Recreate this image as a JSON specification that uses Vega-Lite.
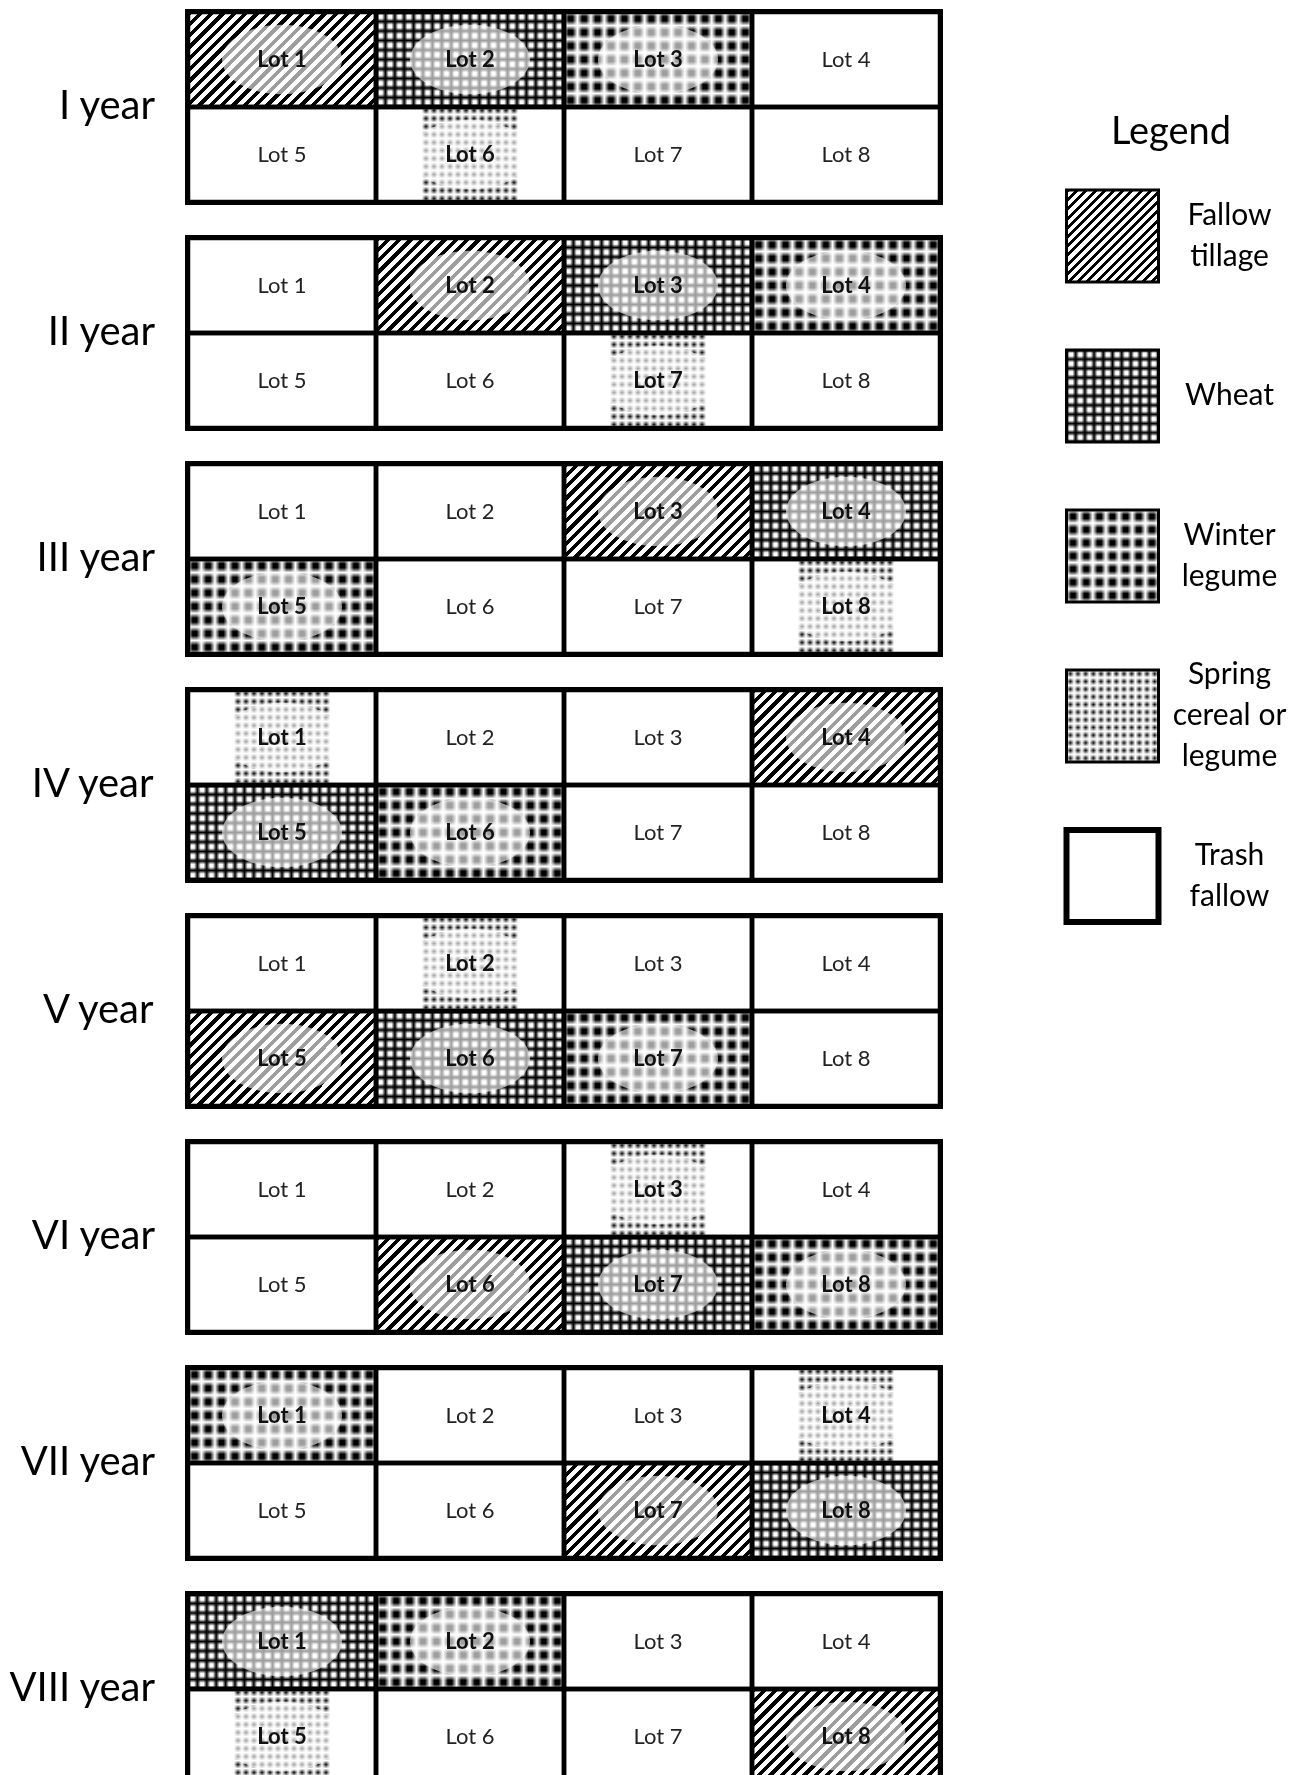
{
  "$schema": "https://vega.github.io/schema/vega-lite/v6.json",
  "background": "white",
  "padding": {"left": 9, "top": 6, "right": 0, "bottom": 0},
  "config": {"view": {"stroke": "black", "strokeWidth": 6}, "font": "Lato"},
  "datasets": {
    "lots": [
      {"year":"I year","lot":1,"crop":"Fallow tillage"},
      {"year":"I year","lot":2,"crop":"Wheat"},
      {"year":"I year","lot":3,"crop":"Winter legume"},
      {"year":"I year","lot":4,"crop":"Trash fallow"},
      {"year":"I year","lot":5,"crop":"Trash fallow"},
      {"year":"I year","lot":6,"crop":"Spring cereal or legume"},
      {"year":"I year","lot":7,"crop":"Trash fallow"},
      {"year":"I year","lot":8,"crop":"Trash fallow"},
      {"year":"II year","lot":1,"crop":"Trash fallow"},
      {"year":"II year","lot":2,"crop":"Fallow tillage"},
      {"year":"II year","lot":3,"crop":"Wheat"},
      {"year":"II year","lot":4,"crop":"Winter legume"},
      {"year":"II year","lot":5,"crop":"Trash fallow"},
      {"year":"II year","lot":6,"crop":"Trash fallow"},
      {"year":"II year","lot":7,"crop":"Spring cereal or legume"},
      {"year":"II year","lot":8,"crop":"Trash fallow"},
      {"year":"III year","lot":1,"crop":"Trash fallow"},
      {"year":"III year","lot":2,"crop":"Trash fallow"},
      {"year":"III year","lot":3,"crop":"Fallow tillage"},
      {"year":"III year","lot":4,"crop":"Wheat"},
      {"year":"III year","lot":5,"crop":"Winter legume"},
      {"year":"III year","lot":6,"crop":"Trash fallow"},
      {"year":"III year","lot":7,"crop":"Trash fallow"},
      {"year":"III year","lot":8,"crop":"Spring cereal or legume"},
      {"year":"IV year","lot":1,"crop":"Spring cereal or legume"},
      {"year":"IV year","lot":2,"crop":"Trash fallow"},
      {"year":"IV year","lot":3,"crop":"Trash fallow"},
      {"year":"IV year","lot":4,"crop":"Fallow tillage"},
      {"year":"IV year","lot":5,"crop":"Wheat"},
      {"year":"IV year","lot":6,"crop":"Winter legume"},
      {"year":"IV year","lot":7,"crop":"Trash fallow"},
      {"year":"IV year","lot":8,"crop":"Trash fallow"},
      {"year":"V year","lot":1,"crop":"Trash fallow"},
      {"year":"V year","lot":2,"crop":"Spring cereal or legume"},
      {"year":"V year","lot":3,"crop":"Trash fallow"},
      {"year":"V year","lot":4,"crop":"Trash fallow"},
      {"year":"V year","lot":5,"crop":"Fallow tillage"},
      {"year":"V year","lot":6,"crop":"Wheat"},
      {"year":"V year","lot":7,"crop":"Winter legume"},
      {"year":"V year","lot":8,"crop":"Trash fallow"},
      {"year":"VI year","lot":1,"crop":"Trash fallow"},
      {"year":"VI year","lot":2,"crop":"Trash fallow"},
      {"year":"VI year","lot":3,"crop":"Spring cereal or legume"},
      {"year":"VI year","lot":4,"crop":"Trash fallow"},
      {"year":"VI year","lot":5,"crop":"Trash fallow"},
      {"year":"VI year","lot":6,"crop":"Fallow tillage"},
      {"year":"VI year","lot":7,"crop":"Wheat"},
      {"year":"VI year","lot":8,"crop":"Winter legume"},
      {"year":"VII year","lot":1,"crop":"Winter legume"},
      {"year":"VII year","lot":2,"crop":"Trash fallow"},
      {"year":"VII year","lot":3,"crop":"Trash fallow"},
      {"year":"VII year","lot":4,"crop":"Spring cereal or legume"},
      {"year":"VII year","lot":5,"crop":"Trash fallow"},
      {"year":"VII year","lot":6,"crop":"Trash fallow"},
      {"year":"VII year","lot":7,"crop":"Fallow tillage"},
      {"year":"VII year","lot":8,"crop":"Wheat"},
      {"year":"VIII year","lot":1,"crop":"Wheat"},
      {"year":"VIII year","lot":2,"crop":"Winter legume"},
      {"year":"VIII year","lot":3,"crop":"Trash fallow"},
      {"year":"VIII year","lot":4,"crop":"Trash fallow"},
      {"year":"VIII year","lot":5,"crop":"Spring cereal or legume"},
      {"year":"VIII year","lot":6,"crop":"Trash fallow"},
      {"year":"VIII year","lot":7,"crop":"Trash fallow"},
      {"year":"VIII year","lot":8,"crop":"Fallow tillage"}
    ],
    "legend": [
      {"crop":"Fallow tillage","text":"Fallow\ntillage"},
      {"crop":"Wheat","text":"Wheat"},
      {"crop":"Winter legume","text":"Winter\nlegume"},
      {"crop":"Spring cereal or legume","text":"Spring\ncereal or\nlegume"},
      {"crop":"Trash fallow","text":"Trash\nfallow"}
    ]
  },
  "spacing": 108,
  "hconcat": [
    {
      "data": {"name": "lots"},
      "transform": [
        {"calculate": "(datum.lot - 1) % 4", "as": "col"},
        {"calculate": "datum.lot <= 4 ? 'top' : 'bottom'", "as": "row"},
        {"calculate": "'Lot ' + datum.lot", "as": "name"}
      ],
      "facet": {
        "row": {
          "field": "year", "type": "nominal",
          "sort": ["I year","II year","III year","IV year","V year","VI year","VII year","VIII year"],
          "title": null,
          "header": {"labelOrient": "left", "labelAngle": 0, "labelAlign": "left", "labelBaseline": "middle", "labelFont": "Lato", "labelFontSize": 40, "labelColor": "black", "labelPadding": 26}
        }
      },
      "spacing": 24,
      "spec": {
        "width": 752,
        "height": 190,
        "encoding": {
          "x": {"field": "col", "type": "ordinal", "scale": {"type": "band", "domain": [0,1,2,3], "paddingInner": 0, "paddingOuter": 0}, "axis": null},
          "y": {"field": "row", "type": "ordinal", "scale": {"type": "band", "domain": ["top","bottom"], "paddingInner": 0, "paddingOuter": 0}, "axis": null}
        },
        "layer": [
          {"mark": {"type": "rect", "fill": "white"}},
          {"transform": [{"filter": "datum.crop === 'Fallow tillage'"}],
           "mark": {"type": "rect", "fill": {"gradient": "linear", "x1": 0, "y1": 0, "x2": 1.2, "y2": 0.606, "stops": [
             {"offset":0,"color":"black"},{"offset":0.018,"color":"black"},{"offset":0.018,"color":"white"},{"offset":0.04,"color":"white"},
             {"offset":0.04,"color":"black"},{"offset":0.058,"color":"black"},{"offset":0.058,"color":"white"},{"offset":0.08,"color":"white"},
             {"offset":0.08,"color":"black"},{"offset":0.098,"color":"black"},{"offset":0.098,"color":"white"},{"offset":0.12,"color":"white"},
             {"offset":0.12,"color":"black"},{"offset":0.138,"color":"black"},{"offset":0.138,"color":"white"},{"offset":0.16,"color":"white"},
             {"offset":0.16,"color":"black"},{"offset":0.178,"color":"black"},{"offset":0.178,"color":"white"},{"offset":0.2,"color":"white"},
             {"offset":0.2,"color":"black"},{"offset":0.218,"color":"black"},{"offset":0.218,"color":"white"},{"offset":0.24,"color":"white"},
             {"offset":0.24,"color":"black"},{"offset":0.258,"color":"black"},{"offset":0.258,"color":"white"},{"offset":0.28,"color":"white"},
             {"offset":0.28,"color":"black"},{"offset":0.298,"color":"black"},{"offset":0.298,"color":"white"},{"offset":0.32,"color":"white"},
             {"offset":0.32,"color":"black"},{"offset":0.338,"color":"black"},{"offset":0.338,"color":"white"},{"offset":0.36,"color":"white"},
             {"offset":0.36,"color":"black"},{"offset":0.378,"color":"black"},{"offset":0.378,"color":"white"},{"offset":0.4,"color":"white"},
             {"offset":0.4,"color":"black"},{"offset":0.418,"color":"black"},{"offset":0.418,"color":"white"},{"offset":0.44,"color":"white"},
             {"offset":0.44,"color":"black"},{"offset":0.458,"color":"black"},{"offset":0.458,"color":"white"},{"offset":0.48,"color":"white"},
             {"offset":0.48,"color":"black"},{"offset":0.498,"color":"black"},{"offset":0.498,"color":"white"},{"offset":0.52,"color":"white"},
             {"offset":0.52,"color":"black"},{"offset":0.538,"color":"black"},{"offset":0.538,"color":"white"},{"offset":0.56,"color":"white"},
             {"offset":0.56,"color":"black"},{"offset":0.578,"color":"black"},{"offset":0.578,"color":"white"},{"offset":0.6,"color":"white"},
             {"offset":0.6,"color":"black"},{"offset":0.618,"color":"black"},{"offset":0.618,"color":"white"},{"offset":0.64,"color":"white"},
             {"offset":0.64,"color":"black"},{"offset":0.658,"color":"black"},{"offset":0.658,"color":"white"},{"offset":0.68,"color":"white"},
             {"offset":0.68,"color":"black"},{"offset":0.698,"color":"black"},{"offset":0.698,"color":"white"},{"offset":0.72,"color":"white"},
             {"offset":0.72,"color":"black"},{"offset":0.738,"color":"black"},{"offset":0.738,"color":"white"},{"offset":0.76,"color":"white"},
             {"offset":0.76,"color":"black"},{"offset":0.778,"color":"black"},{"offset":0.778,"color":"white"},{"offset":0.8,"color":"white"},
             {"offset":0.8,"color":"black"},{"offset":0.818,"color":"black"},{"offset":0.818,"color":"white"},{"offset":0.84,"color":"white"},
             {"offset":0.84,"color":"black"},{"offset":0.858,"color":"black"},{"offset":0.858,"color":"white"},{"offset":0.88,"color":"white"},
             {"offset":0.88,"color":"black"},{"offset":0.898,"color":"black"},{"offset":0.898,"color":"white"},{"offset":0.92,"color":"white"},
             {"offset":0.92,"color":"black"},{"offset":0.938,"color":"black"},{"offset":0.938,"color":"white"},{"offset":0.96,"color":"white"},
             {"offset":0.96,"color":"black"},{"offset":0.978,"color":"black"},{"offset":0.978,"color":"white"},{"offset":1,"color":"white"}
           ]}}},
          {"transform": [{"filter": "datum.crop === 'Wheat'"}],
           "mark": {"type": "rect", "fill": {"gradient": "linear", "x1": 0, "y1": 0, "x2": 0, "y2": 1, "stops": [
             {"offset":0,"color":"black"},{"offset":0.035,"color":"white"},{"offset":0.065,"color":"white"},
             {"offset":0.1,"color":"black"},{"offset":0.135,"color":"white"},{"offset":0.165,"color":"white"},
             {"offset":0.2,"color":"black"},{"offset":0.235,"color":"white"},{"offset":0.265,"color":"white"},
             {"offset":0.3,"color":"black"},{"offset":0.335,"color":"white"},{"offset":0.365,"color":"white"},
             {"offset":0.4,"color":"black"},{"offset":0.435,"color":"white"},{"offset":0.465,"color":"white"},
             {"offset":0.5,"color":"black"},{"offset":0.535,"color":"white"},{"offset":0.565,"color":"white"},
             {"offset":0.6,"color":"black"},{"offset":0.635,"color":"white"},{"offset":0.665,"color":"white"},
             {"offset":0.7,"color":"black"},{"offset":0.735,"color":"white"},{"offset":0.765,"color":"white"},
             {"offset":0.8,"color":"black"},{"offset":0.835,"color":"white"},{"offset":0.865,"color":"white"},
             {"offset":0.9,"color":"black"},{"offset":0.935,"color":"white"},{"offset":0.965,"color":"white"},
             {"offset":1,"color":"black"}
           ]}}},
          {"transform": [{"filter": "datum.crop === 'Wheat'"}],
           "mark": {"type": "rect", "blend": "multiply", "fill": {"gradient": "linear", "x1": 0, "y1": 0, "x2": 1, "y2": 0, "stops": [
             {"offset":0,"color":"black"},{"offset":0.0175,"color":"white"},{"offset":0.0325,"color":"white"},
             {"offset":0.05,"color":"black"},{"offset":0.0675,"color":"white"},{"offset":0.0825,"color":"white"},
             {"offset":0.1,"color":"black"},{"offset":0.1175,"color":"white"},{"offset":0.1325,"color":"white"},
             {"offset":0.15,"color":"black"},{"offset":0.1675,"color":"white"},{"offset":0.1825,"color":"white"},
             {"offset":0.2,"color":"black"},{"offset":0.2175,"color":"white"},{"offset":0.2325,"color":"white"},
             {"offset":0.25,"color":"black"},{"offset":0.2675,"color":"white"},{"offset":0.2825,"color":"white"},
             {"offset":0.3,"color":"black"},{"offset":0.3175,"color":"white"},{"offset":0.3325,"color":"white"},
             {"offset":0.35,"color":"black"},{"offset":0.3675,"color":"white"},{"offset":0.3825,"color":"white"},
             {"offset":0.4,"color":"black"},{"offset":0.4175,"color":"white"},{"offset":0.4325,"color":"white"},
             {"offset":0.45,"color":"black"},{"offset":0.4675,"color":"white"},{"offset":0.4825,"color":"white"},
             {"offset":0.5,"color":"black"},{"offset":0.5175,"color":"white"},{"offset":0.5325,"color":"white"},
             {"offset":0.55,"color":"black"},{"offset":0.5675,"color":"white"},{"offset":0.5825,"color":"white"},
             {"offset":0.6,"color":"black"},{"offset":0.6175,"color":"white"},{"offset":0.6325,"color":"white"},
             {"offset":0.65,"color":"black"},{"offset":0.6675,"color":"white"},{"offset":0.6825,"color":"white"},
             {"offset":0.7,"color":"black"},{"offset":0.7175,"color":"white"},{"offset":0.7325,"color":"white"},
             {"offset":0.75,"color":"black"},{"offset":0.7675,"color":"white"},{"offset":0.7825,"color":"white"},
             {"offset":0.8,"color":"black"},{"offset":0.8175,"color":"white"},{"offset":0.8325,"color":"white"},
             {"offset":0.85,"color":"black"},{"offset":0.8675,"color":"white"},{"offset":0.8825,"color":"white"},
             {"offset":0.9,"color":"black"},{"offset":0.9175,"color":"white"},{"offset":0.9325,"color":"white"},
             {"offset":0.95,"color":"black"},{"offset":0.9675,"color":"white"},{"offset":0.9825,"color":"white"},
             {"offset":1,"color":"black"}
           ]}}},
          {"transform": [{"filter": "datum.crop === 'Winter legume'"}],
           "mark": {"type": "rect", "fill": {"gradient": "linear", "x1": 0, "y1": 0, "x2": 0, "y2": 1, "stops": [
             {"offset":0,"color":"white"},{"offset":0.05,"color":"black"},{"offset":0.0929,"color":"black"},
             {"offset":0.1429,"color":"white"},{"offset":0.1929,"color":"black"},{"offset":0.2357,"color":"black"},
             {"offset":0.2857,"color":"white"},{"offset":0.3357,"color":"black"},{"offset":0.3786,"color":"black"},
             {"offset":0.4286,"color":"white"},{"offset":0.4786,"color":"black"},{"offset":0.5214,"color":"black"},
             {"offset":0.5714,"color":"white"},{"offset":0.6214,"color":"black"},{"offset":0.6643,"color":"black"},
             {"offset":0.7143,"color":"white"},{"offset":0.7643,"color":"black"},{"offset":0.8071,"color":"black"},
             {"offset":0.8571,"color":"white"},{"offset":0.9071,"color":"black"},{"offset":0.95,"color":"black"},
             {"offset":1,"color":"white"}
           ]}}},
          {"transform": [{"filter": "datum.crop === 'Winter legume'"}],
           "mark": {"type": "rect", "blend": "screen", "fill": {"gradient": "linear", "x1": 0, "y1": 0, "x2": 1, "y2": 0, "stops": [
             {"offset":0,"color":"white"},{"offset":0.025,"color":"black"},{"offset":0.0464,"color":"black"},
             {"offset":0.0714,"color":"white"},{"offset":0.0964,"color":"black"},{"offset":0.1179,"color":"black"},
             {"offset":0.1429,"color":"white"},{"offset":0.1679,"color":"black"},{"offset":0.1893,"color":"black"},
             {"offset":0.2143,"color":"white"},{"offset":0.2393,"color":"black"},{"offset":0.2607,"color":"black"},
             {"offset":0.2857,"color":"white"},{"offset":0.3107,"color":"black"},{"offset":0.3321,"color":"black"},
             {"offset":0.3571,"color":"white"},{"offset":0.3821,"color":"black"},{"offset":0.4036,"color":"black"},
             {"offset":0.4286,"color":"white"},{"offset":0.4536,"color":"black"},{"offset":0.475,"color":"black"},
             {"offset":0.5,"color":"white"},{"offset":0.525,"color":"black"},{"offset":0.5464,"color":"black"},
             {"offset":0.5714,"color":"white"},{"offset":0.5964,"color":"black"},{"offset":0.6179,"color":"black"},
             {"offset":0.6429,"color":"white"},{"offset":0.6679,"color":"black"},{"offset":0.6893,"color":"black"},
             {"offset":0.7143,"color":"white"},{"offset":0.7393,"color":"black"},{"offset":0.7607,"color":"black"},
             {"offset":0.7857,"color":"white"},{"offset":0.8107,"color":"black"},{"offset":0.8321,"color":"black"},
             {"offset":0.8571,"color":"white"},{"offset":0.8821,"color":"black"},{"offset":0.9036,"color":"black"},
             {"offset":0.9286,"color":"white"},{"offset":0.9536,"color":"black"},{"offset":0.975,"color":"black"},
             {"offset":1,"color":"white"}
           ]}}},
          {"transform": [{"filter": "datum.crop === 'Spring cereal or legume'"}],
           "mark": {"type": "point", "shape": "square", "size": 9216, "filled": true, "strokeWidth": 0, "opacity": 1, "fill": {"gradient": "linear", "x1": 0, "y1": 0, "x2": 0, "y2": 1, "stops": [
             {"offset":0,"color":"white"},{"offset":0.0417,"color":"black"},{"offset":0.0833,"color":"white"},{"offset":0.125,"color":"black"},
             {"offset":0.1667,"color":"white"},{"offset":0.2083,"color":"black"},{"offset":0.25,"color":"white"},{"offset":0.2917,"color":"black"},
             {"offset":0.3333,"color":"white"},{"offset":0.375,"color":"black"},{"offset":0.4167,"color":"white"},{"offset":0.4583,"color":"black"},
             {"offset":0.5,"color":"white"},{"offset":0.5417,"color":"black"},{"offset":0.5833,"color":"white"},{"offset":0.625,"color":"black"},
             {"offset":0.6667,"color":"white"},{"offset":0.7083,"color":"black"},{"offset":0.75,"color":"white"},{"offset":0.7917,"color":"black"},
             {"offset":0.8333,"color":"white"},{"offset":0.875,"color":"black"},{"offset":0.9167,"color":"white"},{"offset":0.9583,"color":"black"},
             {"offset":1,"color":"white"}
           ]}}},
          {"transform": [{"filter": "datum.crop === 'Spring cereal or legume'"}],
           "mark": {"type": "point", "shape": "square", "size": 9216, "filled": true, "strokeWidth": 0, "opacity": 1, "blend": "screen", "fill": {"gradient": "linear", "x1": 0, "y1": 0, "x2": 1, "y2": 0, "stops": [
             {"offset":0,"color":"white"},{"offset":0.0417,"color":"black"},{"offset":0.0833,"color":"white"},{"offset":0.125,"color":"black"},
             {"offset":0.1667,"color":"white"},{"offset":0.2083,"color":"black"},{"offset":0.25,"color":"white"},{"offset":0.2917,"color":"black"},
             {"offset":0.3333,"color":"white"},{"offset":0.375,"color":"black"},{"offset":0.4167,"color":"white"},{"offset":0.4583,"color":"black"},
             {"offset":0.5,"color":"white"},{"offset":0.5417,"color":"black"},{"offset":0.5833,"color":"white"},{"offset":0.625,"color":"black"},
             {"offset":0.6667,"color":"white"},{"offset":0.7083,"color":"black"},{"offset":0.75,"color":"white"},{"offset":0.7917,"color":"black"},
             {"offset":0.8333,"color":"white"},{"offset":0.875,"color":"black"},{"offset":0.9167,"color":"white"},{"offset":0.9583,"color":"black"},
             {"offset":1,"color":"white"}
           ]}}},
          {"transform": [{"filter": "datum.crop !== 'Trash fallow'"}],
           "mark": {"type": "point", "shape": "M-1,0A1,0.58,0,1,0,1,0A1,0.58,0,1,0,-1,0Z", "size": 14400, "filled": true, "fill": "white", "strokeWidth": 0, "opacity": 0.62}},
          {"mark": {"type": "rect", "fill": "transparent", "stroke": "black", "strokeWidth": 4.5}},
          {"transform": [{"filter": "datum.crop === 'Trash fallow'"}],
           "mark": {"type": "text", "font": "Lato", "fontSize": 22, "fill": "#222222", "fontWeight": "normal"},
           "encoding": {"text": {"field": "name"}}},
          {"transform": [{"filter": "datum.crop !== 'Trash fallow'"}],
           "mark": {"type": "text", "font": "Lato", "fontSize": 22, "fill": "#111111", "fontWeight": "bold"},
           "encoding": {"text": {"field": "name"}}}
        ]
      }
    },
    {
      "data": {"name": "legend"},
      "width": 234,
      "height": 1088,
      "view": {"stroke": null},
      "title": {"text": "Legend", "font": "Lato", "fontSize": 38, "fontWeight": "normal", "color": "black", "anchor": "middle", "offset": -140},
      "encoding": {
        "x": {"datum": "swatch", "type": "nominal", "scale": {"type": "band", "domain": ["swatch","label"], "paddingInner": 0, "paddingOuter": 0}, "axis": null},
        "y": {"field": "crop", "type": "nominal", "sort": null, "scale": {"type": "band", "paddingInner": 0, "paddingOuter": 0.9}, "axis": null}
      },
      "layer": [
        {"mark": {"type": "point", "shape": "square", "size": 8464, "filled": true, "fill": "white", "strokeWidth": 0, "opacity": 1}},
        {"transform": [{"filter": "datum.crop === 'Fallow tillage'"}],
         "mark": {"type": "point", "shape": "square", "size": 8464, "filled": true, "strokeWidth": 0, "opacity": 1, "fill": {"gradient": "linear", "x1": 0, "y1": 0, "x2": 1, "y2": 1, "stops": [
           {"offset":0,"color":"black"},{"offset":0.022,"color":"black"},{"offset":0.022,"color":"white"},{"offset":0.05,"color":"white"},
           {"offset":0.05,"color":"black"},{"offset":0.072,"color":"black"},{"offset":0.072,"color":"white"},{"offset":0.1,"color":"white"},
           {"offset":0.1,"color":"black"},{"offset":0.122,"color":"black"},{"offset":0.122,"color":"white"},{"offset":0.15,"color":"white"},
           {"offset":0.15,"color":"black"},{"offset":0.172,"color":"black"},{"offset":0.172,"color":"white"},{"offset":0.2,"color":"white"},
           {"offset":0.2,"color":"black"},{"offset":0.222,"color":"black"},{"offset":0.222,"color":"white"},{"offset":0.25,"color":"white"},
           {"offset":0.25,"color":"black"},{"offset":0.272,"color":"black"},{"offset":0.272,"color":"white"},{"offset":0.3,"color":"white"},
           {"offset":0.3,"color":"black"},{"offset":0.322,"color":"black"},{"offset":0.322,"color":"white"},{"offset":0.35,"color":"white"},
           {"offset":0.35,"color":"black"},{"offset":0.372,"color":"black"},{"offset":0.372,"color":"white"},{"offset":0.4,"color":"white"},
           {"offset":0.4,"color":"black"},{"offset":0.422,"color":"black"},{"offset":0.422,"color":"white"},{"offset":0.45,"color":"white"},
           {"offset":0.45,"color":"black"},{"offset":0.472,"color":"black"},{"offset":0.472,"color":"white"},{"offset":0.5,"color":"white"},
           {"offset":0.5,"color":"black"},{"offset":0.522,"color":"black"},{"offset":0.522,"color":"white"},{"offset":0.55,"color":"white"},
           {"offset":0.55,"color":"black"},{"offset":0.572,"color":"black"},{"offset":0.572,"color":"white"},{"offset":0.6,"color":"white"},
           {"offset":0.6,"color":"black"},{"offset":0.622,"color":"black"},{"offset":0.622,"color":"white"},{"offset":0.65,"color":"white"},
           {"offset":0.65,"color":"black"},{"offset":0.672,"color":"black"},{"offset":0.672,"color":"white"},{"offset":0.7,"color":"white"},
           {"offset":0.7,"color":"black"},{"offset":0.722,"color":"black"},{"offset":0.722,"color":"white"},{"offset":0.75,"color":"white"},
           {"offset":0.75,"color":"black"},{"offset":0.772,"color":"black"},{"offset":0.772,"color":"white"},{"offset":0.8,"color":"white"},
           {"offset":0.8,"color":"black"},{"offset":0.822,"color":"black"},{"offset":0.822,"color":"white"},{"offset":0.85,"color":"white"},
           {"offset":0.85,"color":"black"},{"offset":0.872,"color":"black"},{"offset":0.872,"color":"white"},{"offset":0.9,"color":"white"},
           {"offset":0.9,"color":"black"},{"offset":0.922,"color":"black"},{"offset":0.922,"color":"white"},{"offset":0.95,"color":"white"},
           {"offset":0.95,"color":"black"},{"offset":0.972,"color":"black"},{"offset":0.972,"color":"white"},{"offset":1,"color":"white"}
         ]}}},
        {"transform": [{"filter": "datum.crop === 'Wheat'"}],
         "mark": {"type": "point", "shape": "square", "size": 8464, "filled": true, "strokeWidth": 0, "opacity": 1, "fill": {"gradient": "linear", "x1": 0, "y1": 0, "x2": 0, "y2": 1, "stops": [
           {"offset":0,"color":"black"},{"offset":0.035,"color":"white"},{"offset":0.065,"color":"white"},
           {"offset":0.1,"color":"black"},{"offset":0.135,"color":"white"},{"offset":0.165,"color":"white"},
           {"offset":0.2,"color":"black"},{"offset":0.235,"color":"white"},{"offset":0.265,"color":"white"},
           {"offset":0.3,"color":"black"},{"offset":0.335,"color":"white"},{"offset":0.365,"color":"white"},
           {"offset":0.4,"color":"black"},{"offset":0.435,"color":"white"},{"offset":0.465,"color":"white"},
           {"offset":0.5,"color":"black"},{"offset":0.535,"color":"white"},{"offset":0.565,"color":"white"},
           {"offset":0.6,"color":"black"},{"offset":0.635,"color":"white"},{"offset":0.665,"color":"white"},
           {"offset":0.7,"color":"black"},{"offset":0.735,"color":"white"},{"offset":0.765,"color":"white"},
           {"offset":0.8,"color":"black"},{"offset":0.835,"color":"white"},{"offset":0.865,"color":"white"},
           {"offset":0.9,"color":"black"},{"offset":0.935,"color":"white"},{"offset":0.965,"color":"white"},
           {"offset":1,"color":"black"}
         ]}}},
        {"transform": [{"filter": "datum.crop === 'Wheat'"}],
         "mark": {"type": "point", "shape": "square", "size": 8464, "filled": true, "strokeWidth": 0, "opacity": 1, "blend": "multiply", "fill": {"gradient": "linear", "x1": 0, "y1": 0, "x2": 1, "y2": 0, "stops": [
           {"offset":0,"color":"black"},{"offset":0.035,"color":"white"},{"offset":0.065,"color":"white"},
           {"offset":0.1,"color":"black"},{"offset":0.135,"color":"white"},{"offset":0.165,"color":"white"},
           {"offset":0.2,"color":"black"},{"offset":0.235,"color":"white"},{"offset":0.265,"color":"white"},
           {"offset":0.3,"color":"black"},{"offset":0.335,"color":"white"},{"offset":0.365,"color":"white"},
           {"offset":0.4,"color":"black"},{"offset":0.435,"color":"white"},{"offset":0.465,"color":"white"},
           {"offset":0.5,"color":"black"},{"offset":0.535,"color":"white"},{"offset":0.565,"color":"white"},
           {"offset":0.6,"color":"black"},{"offset":0.635,"color":"white"},{"offset":0.665,"color":"white"},
           {"offset":0.7,"color":"black"},{"offset":0.735,"color":"white"},{"offset":0.765,"color":"white"},
           {"offset":0.8,"color":"black"},{"offset":0.835,"color":"white"},{"offset":0.865,"color":"white"},
           {"offset":0.9,"color":"black"},{"offset":0.935,"color":"white"},{"offset":0.965,"color":"white"},
           {"offset":1,"color":"black"}
         ]}}},
        {"transform": [{"filter": "datum.crop === 'Winter legume'"}],
         "mark": {"type": "point", "shape": "square", "size": 8464, "filled": true, "strokeWidth": 0, "opacity": 1, "fill": {"gradient": "linear", "x1": 0, "y1": 0, "x2": 0, "y2": 1, "stops": [
           {"offset":0,"color":"white"},{"offset":0.05,"color":"black"},{"offset":0.0929,"color":"black"},
           {"offset":0.1429,"color":"white"},{"offset":0.1929,"color":"black"},{"offset":0.2357,"color":"black"},
           {"offset":0.2857,"color":"white"},{"offset":0.3357,"color":"black"},{"offset":0.3786,"color":"black"},
           {"offset":0.4286,"color":"white"},{"offset":0.4786,"color":"black"},{"offset":0.5214,"color":"black"},
           {"offset":0.5714,"color":"white"},{"offset":0.6214,"color":"black"},{"offset":0.6643,"color":"black"},
           {"offset":0.7143,"color":"white"},{"offset":0.7643,"color":"black"},{"offset":0.8071,"color":"black"},
           {"offset":0.8571,"color":"white"},{"offset":0.9071,"color":"black"},{"offset":0.95,"color":"black"},
           {"offset":1,"color":"white"}
         ]}}},
        {"transform": [{"filter": "datum.crop === 'Winter legume'"}],
         "mark": {"type": "point", "shape": "square", "size": 8464, "filled": true, "strokeWidth": 0, "opacity": 1, "blend": "screen", "fill": {"gradient": "linear", "x1": 0, "y1": 0, "x2": 1, "y2": 0, "stops": [
           {"offset":0,"color":"white"},{"offset":0.05,"color":"black"},{"offset":0.0929,"color":"black"},
           {"offset":0.1429,"color":"white"},{"offset":0.1929,"color":"black"},{"offset":0.2357,"color":"black"},
           {"offset":0.2857,"color":"white"},{"offset":0.3357,"color":"black"},{"offset":0.3786,"color":"black"},
           {"offset":0.4286,"color":"white"},{"offset":0.4786,"color":"black"},{"offset":0.5214,"color":"black"},
           {"offset":0.5714,"color":"white"},{"offset":0.6214,"color":"black"},{"offset":0.6643,"color":"black"},
           {"offset":0.7143,"color":"white"},{"offset":0.7643,"color":"black"},{"offset":0.8071,"color":"black"},
           {"offset":0.8571,"color":"white"},{"offset":0.9071,"color":"black"},{"offset":0.95,"color":"black"},
           {"offset":1,"color":"white"}
         ]}}},
        {"transform": [{"filter": "datum.crop === 'Spring cereal or legume'"}],
         "mark": {"type": "point", "shape": "square", "size": 8464, "filled": true, "strokeWidth": 0, "opacity": 1, "fill": {"gradient": "linear", "x1": 0, "y1": 0, "x2": 0, "y2": 1, "stops": [
           {"offset":0,"color":"white"},{"offset":0.0417,"color":"black"},{"offset":0.0833,"color":"white"},{"offset":0.125,"color":"black"},
           {"offset":0.1667,"color":"white"},{"offset":0.2083,"color":"black"},{"offset":0.25,"color":"white"},{"offset":0.2917,"color":"black"},
           {"offset":0.3333,"color":"white"},{"offset":0.375,"color":"black"},{"offset":0.4167,"color":"white"},{"offset":0.4583,"color":"black"},
           {"offset":0.5,"color":"white"},{"offset":0.5417,"color":"black"},{"offset":0.5833,"color":"white"},{"offset":0.625,"color":"black"},
           {"offset":0.6667,"color":"white"},{"offset":0.7083,"color":"black"},{"offset":0.75,"color":"white"},{"offset":0.7917,"color":"black"},
           {"offset":0.8333,"color":"white"},{"offset":0.875,"color":"black"},{"offset":0.9167,"color":"white"},{"offset":0.9583,"color":"black"},
           {"offset":1,"color":"white"}
         ]}}},
        {"transform": [{"filter": "datum.crop === 'Spring cereal or legume'"}],
         "mark": {"type": "point", "shape": "square", "size": 8464, "filled": true, "strokeWidth": 0, "opacity": 1, "blend": "screen", "fill": {"gradient": "linear", "x1": 0, "y1": 0, "x2": 1, "y2": 0, "stops": [
           {"offset":0,"color":"white"},{"offset":0.0417,"color":"black"},{"offset":0.0833,"color":"white"},{"offset":0.125,"color":"black"},
           {"offset":0.1667,"color":"white"},{"offset":0.2083,"color":"black"},{"offset":0.25,"color":"white"},{"offset":0.2917,"color":"black"},
           {"offset":0.3333,"color":"white"},{"offset":0.375,"color":"black"},{"offset":0.4167,"color":"white"},{"offset":0.4583,"color":"black"},
           {"offset":0.5,"color":"white"},{"offset":0.5417,"color":"black"},{"offset":0.5833,"color":"white"},{"offset":0.625,"color":"black"},
           {"offset":0.6667,"color":"white"},{"offset":0.7083,"color":"black"},{"offset":0.75,"color":"white"},{"offset":0.7917,"color":"black"},
           {"offset":0.8333,"color":"white"},{"offset":0.875,"color":"black"},{"offset":0.9167,"color":"white"},{"offset":0.9583,"color":"black"},
           {"offset":1,"color":"white"}
         ]}}},
        {"mark": {"type": "point", "shape": "square", "size": 8464, "filled": false, "stroke": "black", "opacity": 1},
         "encoding": {
           "strokeWidth": {"condition": {"test": "datum.crop === 'Trash fallow'", "value": 6}, "value": 3}
         }},
        {"mark": {"type": "text", "font": "Lato", "fontSize": 30, "lineHeight": 41, "lineBreak": "\n", "fill": "black", "align": "center", "baseline": "middle",
                  "dy": {"expr": "-20.5 * (length(split(datum.text, '\\n')) - 1)"}},
         "encoding": {
           "x": {"datum": "label", "type": "nominal", "scale": {"type": "band", "domain": ["swatch","label"], "paddingInner": 0, "paddingOuter": 0}, "axis": null},
           "text": {"field": "text"}
         }}
      ]
    }
  ]
}
